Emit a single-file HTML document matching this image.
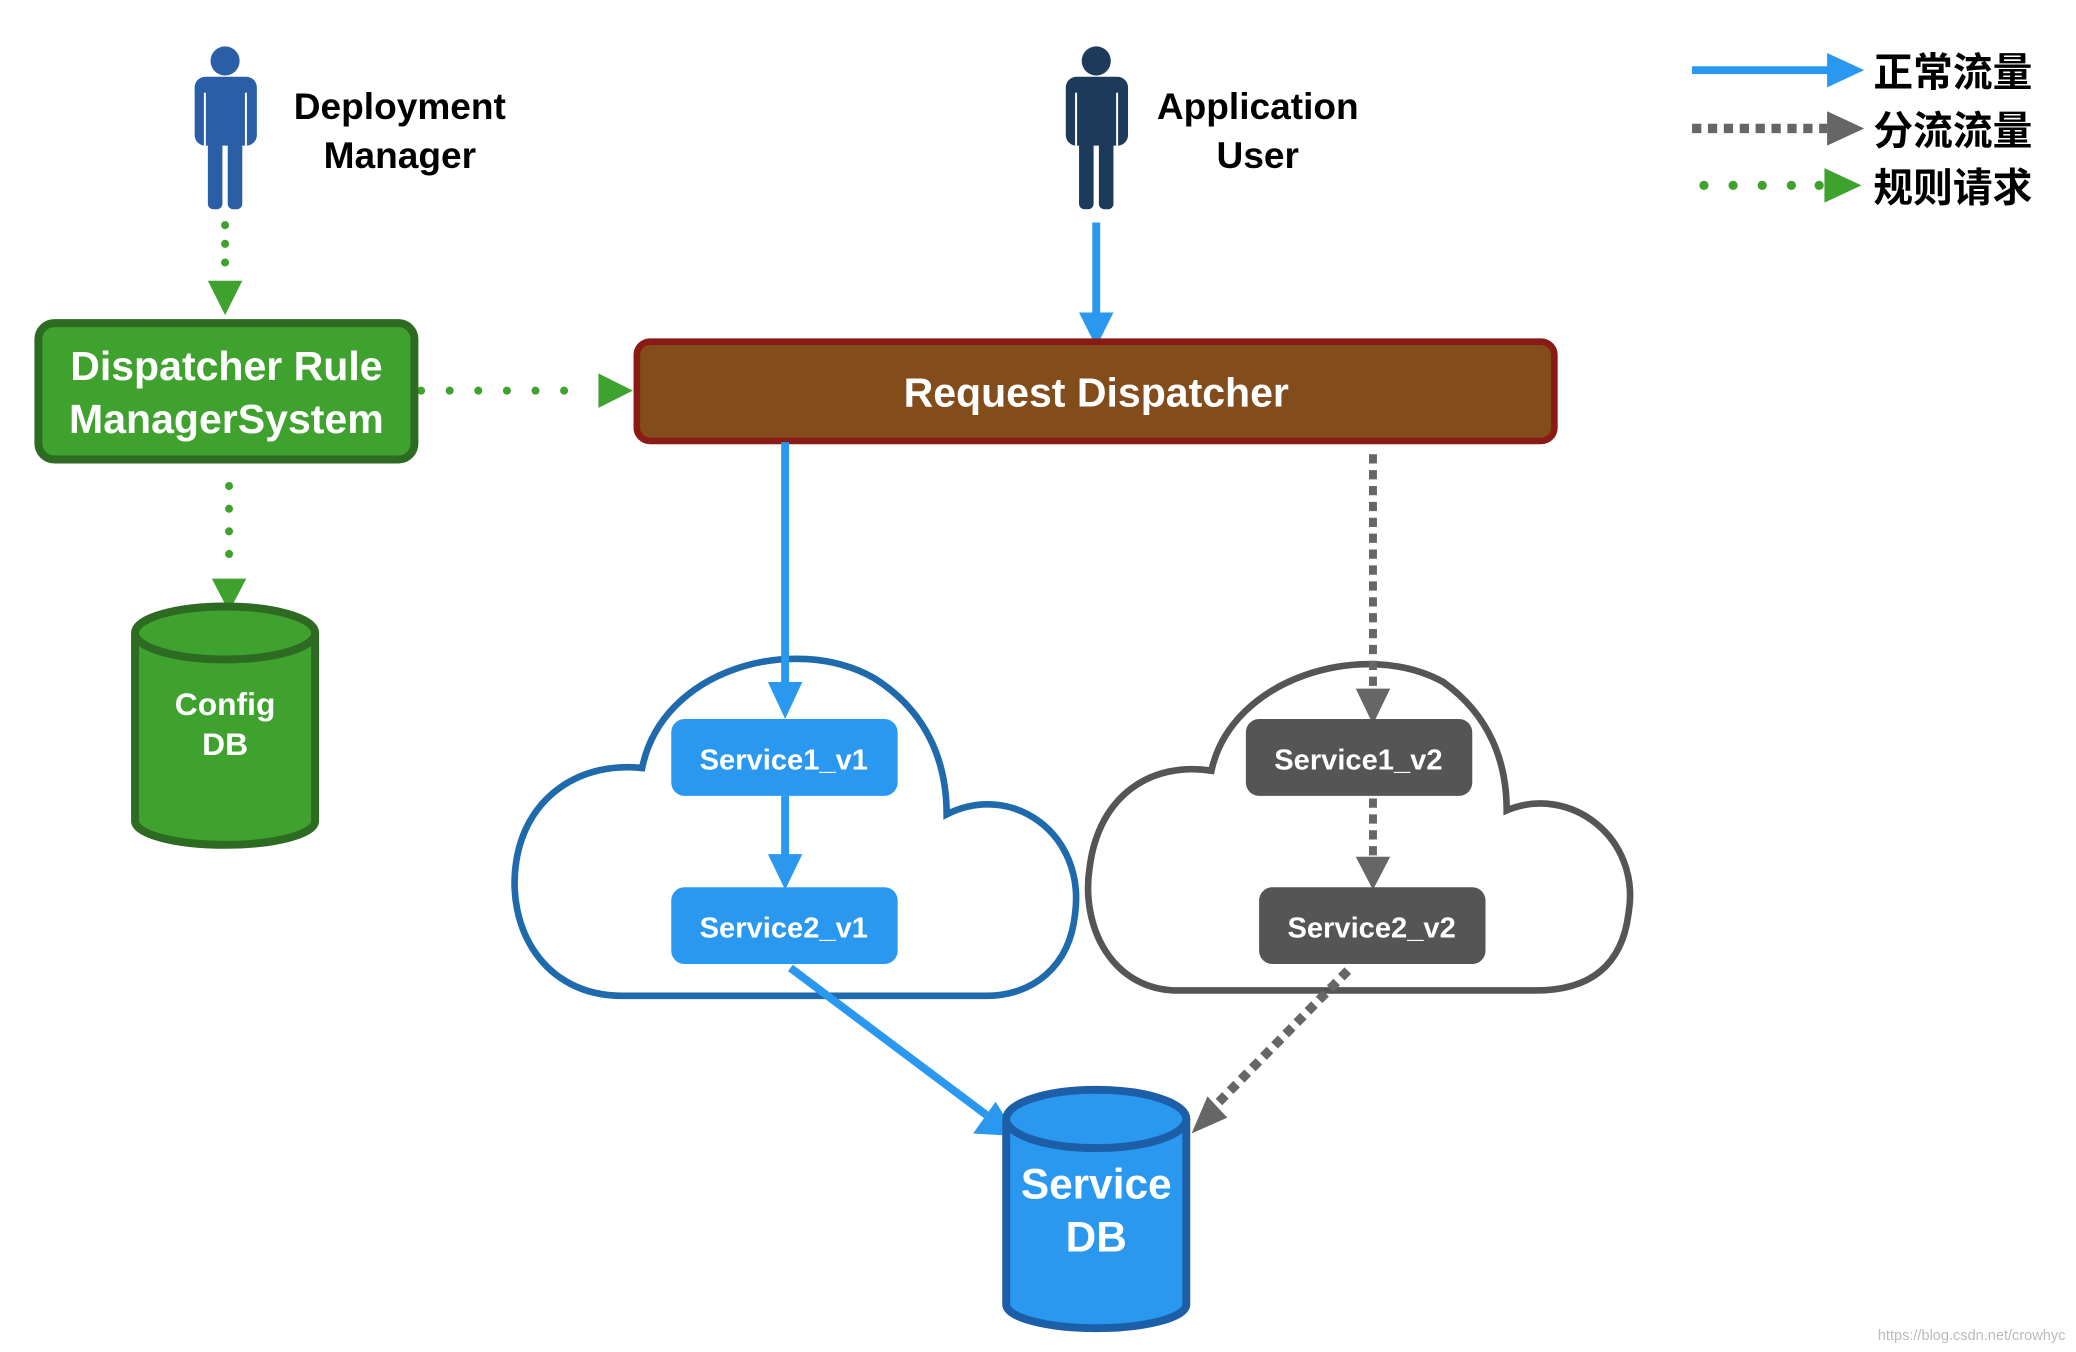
<!DOCTYPE html>
<html><head><meta charset="utf-8"><style>
html,body{margin:0;padding:0;background:#fff;}
svg{display:block;}
text{font-family:"Liberation Sans","Noto Sans CJK SC",sans-serif;font-weight:bold;}
</style></head><body>
<svg width="2076" height="1352" viewBox="0 0 1568 1021" preserveAspectRatio="none" xmlns="http://www.w3.org/2000/svg">
<g fill="#2a5fa8">
<circle cx="170" cy="46" r="11"/>
<rect x="147" y="58" width="47" height="52" rx="8"/>
<rect x="157" y="100" width="11" height="58" rx="4"/>
<rect x="172" y="100" width="11" height="58" rx="4"/>
<rect x="154" y="70" width="1.5" height="40" fill="#fff"/>
<rect x="185" y="70" width="1.5" height="40" fill="#fff"/>
</g>
<g fill="#1e3a5a">
<circle cx="828" cy="46" r="11"/>
<rect x="805" y="58" width="47" height="52" rx="8"/>
<rect x="815" y="100" width="11" height="58" rx="4"/>
<rect x="830" y="100" width="11" height="58" rx="4"/>
<rect x="812" y="70" width="1.5" height="40" fill="#fff"/>
<rect x="843" y="70" width="1.5" height="40" fill="#fff"/>
</g>
<text x="302" y="90" font-size="28" text-anchor="middle">Deployment</text>
<text x="302" y="127" font-size="28" text-anchor="middle">Manager</text>
<text x="950" y="90" font-size="28" text-anchor="middle">Application</text>
<text x="950" y="127" font-size="28" text-anchor="middle">User</text>

<line x1="1278" y1="53" x2="1382" y2="53" stroke="#2b98f0" stroke-width="6"/>
<path d="M1380,40 L1408,53 L1380,66 z" fill="#2b98f0"/>
<line x1="1278" y1="97" x2="1380" y2="97" stroke="#666" stroke-width="7" stroke-dasharray="7,5"/>
<path d="M1380,84 L1408,97 L1380,110 z" fill="#666"/>
<g fill="#3fa22f"><circle cx="1287" cy="140" r="3.5"/><circle cx="1309" cy="140" r="3.5"/><circle cx="1331" cy="140" r="3.5"/><circle cx="1353" cy="140" r="3.5"/><circle cx="1374" cy="140" r="3.5"/></g>
<path d="M1378,127 L1406,140 L1378,153 z" fill="#3fa22f"/>
<text x="1415" y="65" font-size="30">正常流量</text>
<text x="1415" y="109" font-size="30">分流流量</text>
<text x="1415" y="152" font-size="30">规则请求</text>

<line x1="170" y1="170" x2="170" y2="210" stroke="#3fa22f" stroke-width="6" stroke-dasharray="0.1,14" stroke-linecap="round"/>
<path d="M157,212 L170,238 L183,212 z" fill="#3fa22f"/>
<line x1="318" y1="295" x2="445" y2="295" stroke="#3fa22f" stroke-width="6" stroke-dasharray="0.1,21.5" stroke-linecap="round"/>
<path d="M452,282 L478,295 L452,308 z" fill="#3fa22f"/>
<line x1="173" y1="367" x2="173" y2="435" stroke="#3fa22f" stroke-width="6" stroke-dasharray="0.1,17" stroke-linecap="round"/>
<path d="M160,437 L173,462 L186,437 z" fill="#3fa22f"/>

<rect x="29" y="244" width="284" height="103" rx="12" fill="#3fa22f" stroke="#2d6a22" stroke-width="6"/>
<text x="171" y="287" font-size="31" fill="#fff" text-anchor="middle">Dispatcher Rule</text>
<text x="171" y="327" font-size="31" fill="#fff" text-anchor="middle">ManagerSystem</text>

<path d="M102,478 L102,620 A68,18 0 0 0 238,620 L238,478" fill="#3fa22f" stroke="#2d6a22" stroke-width="6"/>
<ellipse cx="170" cy="478" rx="68" ry="20" fill="#3fa22f" stroke="#2d6a22" stroke-width="6"/>
<text x="170" y="540" font-size="24" fill="#fff" text-anchor="middle">Config</text>
<text x="170" y="570" font-size="24" fill="#fff" text-anchor="middle">DB</text>

<line x1="828" y1="168" x2="828" y2="238" stroke="#2b98f0" stroke-width="6"/>
<path d="M815,236 L828,262 L841,236 z" fill="#2b98f0"/>
<rect x="481" y="258" width="693" height="75" rx="10" fill="#824c1b" stroke="#8a1a14" stroke-width="5"/>
<text x="828" y="307" font-size="31" fill="#fff" text-anchor="middle">Request Dispatcher</text>

<path d="M470,752 C410,752 382,700 390,650 C398,600 440,575 485,580 C500,505 600,478 660,512 C700,537 715,575 715,615 C765,590 820,630 812,690 C808,730 780,752 745,752 Z" fill="#fff" stroke="#1f6aad" stroke-width="5"/>
<path d="M890,748 C840,748 816,700 823,655 C830,600 870,575 915,582 C930,512 1030,482 1090,515 C1125,540 1138,575 1138,612 C1185,592 1240,632 1230,690 C1225,730 1200,748 1160,748 Z" fill="#fff" stroke="#555" stroke-width="5"/>

<line x1="593" y1="334" x2="593" y2="518" stroke="#2b98f0" stroke-width="6"/>
<path d="M580,515 L593,543 L606,515 z" fill="#2b98f0"/>
<line x1="593" y1="601" x2="593" y2="648" stroke="#2b98f0" stroke-width="6"/>
<path d="M580,645 L593,672 L606,645 z" fill="#2b98f0"/>
<line x1="1037" y1="343" x2="1037" y2="520" stroke="#666" stroke-width="6" stroke-dasharray="7,5"/>
<path d="M1024,520 L1037,547 L1050,520 z" fill="#666"/>
<line x1="1037" y1="603" x2="1037" y2="648" stroke="#666" stroke-width="6" stroke-dasharray="7,5"/>
<path d="M1024,647 L1037,672 L1050,647 z" fill="#666"/>

<rect x="507" y="543" width="171" height="58" rx="10" fill="#2b98f0"/>
<text x="592" y="581" font-size="22" fill="#fff" text-anchor="middle">Service1_v1</text>
<rect x="507" y="670" width="171" height="58" rx="10" fill="#2b98f0"/>
<text x="592" y="708" font-size="22" fill="#fff" text-anchor="middle">Service2_v1</text>
<rect x="941" y="543" width="171" height="58" rx="10" fill="#555"/>
<text x="1026" y="581" font-size="22" fill="#fff" text-anchor="middle">Service1_v2</text>
<rect x="951" y="670" width="171" height="58" rx="10" fill="#555"/>
<text x="1036" y="708" font-size="22" fill="#fff" text-anchor="middle">Service2_v2</text>

<line x1="597" y1="731" x2="745" y2="842" stroke="#2b98f0" stroke-width="6"/>
<path d="M735,856 L768,858 L752,832 z" fill="#2b98f0"/>
<line x1="1018" y1="733" x2="915" y2="838" stroke="#666" stroke-width="7" stroke-dasharray="7,5"/>
<path d="M900,856 L912,828 L927,844 z" fill="#666"/>

<path d="M760,845 L760,985 A68,18 0 0 0 896,985 L896,845" fill="#2b98f0" stroke="#1c5ea8" stroke-width="6"/>
<ellipse cx="828" cy="845" rx="68" ry="22" fill="#2b98f0" stroke="#1c5ea8" stroke-width="6"/>
<text x="828" y="905" font-size="32" fill="#fff" text-anchor="middle">Service</text>
<text x="828" y="945" font-size="32" fill="#fff" text-anchor="middle">DB</text>

<text x="1560" y="1012" font-size="11" fill="#bbb" text-anchor="end" style="font-weight:normal">https://blog.csdn.net/crowhyc</text>
</svg>
</body></html>
